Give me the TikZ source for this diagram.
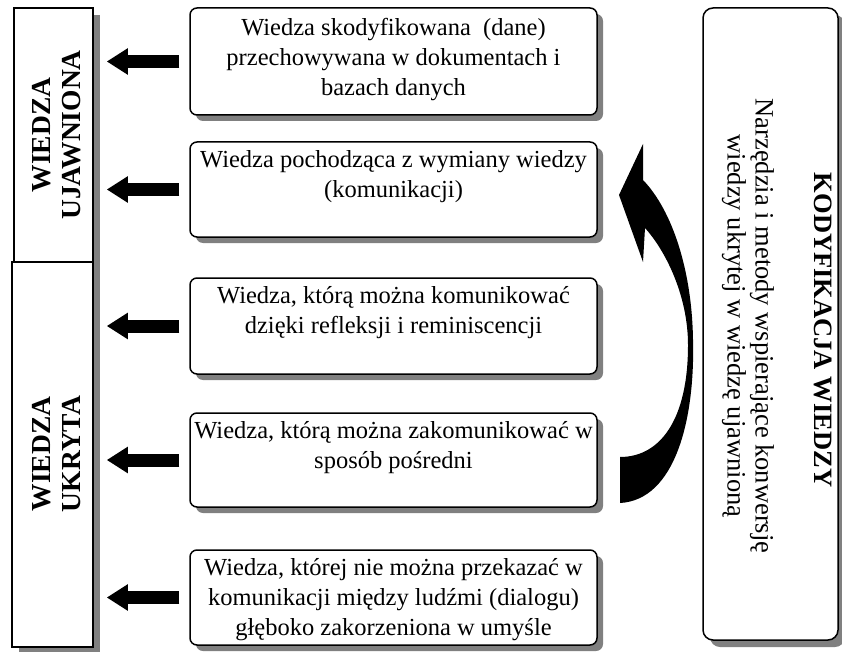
\documentclass[tikz,border=0pt]{standalone}
\usepackage{fontspec}
\setmainfont{Liberation Serif}
\usetikzlibrary{positioning,shadows,arrows.meta}

\begin{document}
\begin{tikzpicture}[x=1pt,y=-1pt,
    every text node part/.style={align=center},
    sidebar/.style={draw,line width=1.5pt,fill=white,inner sep=0pt,
      drop shadow={shadow xshift=7pt,shadow yshift=-7pt,fill=black!50,opacity=1}},
    infobox/.style={draw,line width=1.5pt,fill=white,rounded corners=7pt,
      minimum width=407pt,inner sep=0pt,
      drop shadow={shadow xshift=6pt,shadow yshift=-6pt,fill=black!50,opacity=1}},
    boxtext/.style={inner sep=0pt,font=\fontsize{24.5}{30}\selectfont},
    sidetext/.style={rotate=90,inner sep=0pt,font=\fontsize{27.5}{30}\selectfont\bfseries},
    fatarrow/.style={line width=13pt,-{Triangle[length=21pt,width=25pt]},
      shorten <=10pt,shorten >=13pt}]
      \useasboundingbox (0,0) rectangle (842,652);

      % left bars
      \node[sidebar,minimum width=79pt,minimum height=254pt] (ujawn) at (53.5,135)   {};
      \node[sidebar,minimum width=81pt,minimum height=385pt] (ukryt) at (52.5,454.5) {};
      \node[sidetext] (ujawnT) at (57,135) {WIEDZA\\UJAWNIONA};
      \node[sidetext] (ukrytT) at (57,454) {WIEDZA\\UKRYTA};

      % right bar
      \node[draw,line width=1.5pt,fill=white,rounded corners=10pt,inner sep=0pt,
            minimum width=135pt,minimum height=632pt,
            drop shadow={shadow xshift=7pt,shadow yshift=-7pt,fill=black!50,opacity=1}]
            (kodyf) at (770.5,324) {};
      \node[rotate=-90,inner sep=0pt,font=\fontsize{26.5}{28}\selectfont\bfseries]
            (kodyfT) at (823,330) {KODYFIKACJA WIEDZY};
      \node[rotate=-90,inner sep=0pt,font=\fontsize{26.5}{28}\selectfont]
            (kodyfD) at (748,326) {Narzędzia i metody wspierające konwersję\\wiedzy ukrytej w wiedzę ujawnioną};

      % knowledge boxes
      \node[infobox,minimum height=107pt] (box1) at (393.5,61.5)  {};
      \node[infobox,minimum height=95pt]  (box2) at (393.5,189.5) {};
      \node[infobox,minimum height=96pt]  (box3) at (393.5,326)   {};
      \node[infobox,minimum height=94pt]  (box4) at (393.5,460)   {};
      \node[infobox,minimum height=95pt]  (box5) at (393.5,597.5) {};

      \node[boxtext,below=11pt of box1.north] (box1T) {Wiedza skodyfikowana~ (dane)\\przechowywana w dokumentach i\\bazach danych};
      \node[boxtext,below=9pt of box2.north]  (box2T) {Wiedza pochodząca z wymiany wiedzy\\(komunikacji)};
      \node[boxtext,below=9pt of box3.north]  (box3T) {Wiedza, którą można komunikować\\dzięki refleksji i reminiscencji};
      \node[boxtext,below=9pt of box4.north]  (box4T) {Wiedza, którą można zakomunikować w\\sposób pośredni};
      \node[boxtext,below=9pt of box5.north]  (box5T) {Wiedza, której nie można przekazać w\\komunikacji między ludźmi (dialogu)\\głęboko zakorzeniona w umyśle};

      \draw[fatarrow] (box1.west) -- (ujawn.east |- box1.west);
      \draw[fatarrow] (box2.west) -- (ujawn.east |- box2.west);
      \draw[fatarrow] (box3.west) -- (ukryt.east |- box3.west);
      \draw[fatarrow] (box4.west) -- (ukryt.east |- box4.west);
      \draw[fatarrow] (box5.west) -- (ukryt.east |- box5.west);

      % curved arrow
      \fill (643,144) -- (619,195) -- (643,262) -- (645,228)
        .. controls (665,250) and (688,295) .. (688,345)
        .. controls (688,420) and (660,457) .. (620,457)
        -- (620,503)
        .. controls (675,500) and (695,420) .. (693,340)
        .. controls (692,270) and (672,210) .. (643,180) -- cycle;
    \end{tikzpicture}
\end{document}
